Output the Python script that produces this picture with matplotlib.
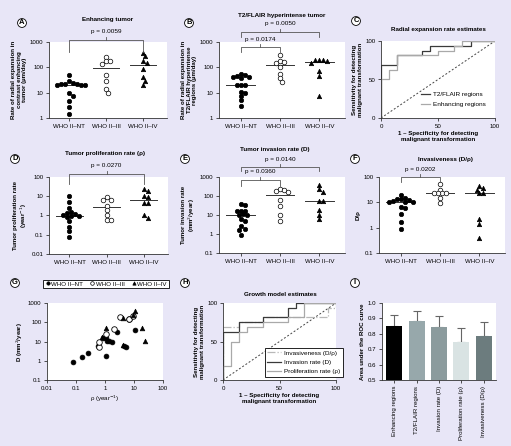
import matplotlib
matplotlib.use('Agg')
import matplotlib.pyplot as plt
import matplotlib.transforms as mtransforms
from matplotlib.lines import Line2D
import numpy as np

plt.rcParams['font.family'] = ['Liberation Sans', 'DejaVu Sans']
plt.rcParams['font.size'] = 4.4

W, H = 511, 446
BG = '#e8e6f7'
DARK = '#3a3a3a'
LIGHT = '#a9a9a9'

groups = ['WHO II–NT', 'WHO II–III', 'WHO II–IV']

# A: radial expansion, enhancing tumor (um/day)
enh_nt = [50, 28, 25, 23, 21, 20, 21, 22, 23, 10, 7.5, 4.5, 2.8, 1.5]
enh_iii = [255, 170, 170, 140, 52, 29, 13.5, 9.7]
enh_iv = [380, 270, 178, 152, 89, 41, 29, 21]

# B: radial expansion, T2/FLAIR (um/day)
t2_nt = [55, 52, 45, 42, 40, 38, 21, 21, 20, 11, 10, 7.5, 5, 3]
t2_iii = [320, 180, 160, 145, 105, 55, 38, 27]
t2_iv = [200, 195, 190, 185, 150, 72, 46, 7.5]

# C: ROC, radial expansion
roc_t2_fpr = [0, 0, 14.29, 35.71, 42.86, 78.57, 100]
roc_t2_tpr = [0, 68.75, 81.25, 87.5, 93.75, 100, 100]
roc_enh_fpr = [0, 0, 7.14, 14.29, 50, 64.29, 71.43, 100]
roc_enh_tpr = [0, 50, 62.5, 81.25, 87.5, 93.75, 100, 100]

# D: proliferation rate rho (1/year)
rho_nt = [10.8, 5.3, 2.5, 1.6, 1.4, 1.2, 1.0, 0.95, 0.9, 0.85, 0.51, 0.25, 0.15, 0.076]
rho_iii = [9.6, 6.5, 6.5, 3.3, 2.0, 1.07, 0.6, 0.6]
rho_iv = [24, 19.6, 10.8, 8.9, 4.3, 4.3, 1.07, 0.76]

# E: invasion rate D (mm2/year)
inv_nt = [38, 35, 17, 17, 17, 11, 10, 10, 6.2, 5, 2.5, 1.8, 1.6, 0.9]
inv_iii = [245, 210, 185, 168, 64, 29, 10.4, 5]
inv_iv = [400, 235, 160, 52, 52, 18, 10.5, 6.2]

# F: invasiveness D/rho
dr_nt = [19, 15, 14, 13, 12, 11, 10, 10, 10, 6.7, 6.2, 3.4, 1.7, 0.9]
dr_iii = [55, 32, 23, 23, 23, 23, 15, 9.1]
dr_iv = [44, 38, 32, 23, 23, 2.3, 1.4, 0.4]

# G: rho vs D per patient
g_nt_rho = [0.08, 0.16, 0.25, 0.56, 1.05, 0.85, 1.1, 1.2, 1.4, 1.7, 2.5, 4.6, 5.3, 11]
g_nt_d = [0.9, 1.6, 2.5, 5.5, 1.8, 16, 16, 11, 11, 10, 32, 6, 5, 38]
g_iii_rho = [0.6, 0.6, 1.07, 2.0, 3.3, 6.5, 6.5, 9.6]
g_iii_d = [5, 9.5, 25, 44, 185, 145, 140, 210]
g_iv_rho = [0.76, 1.07, 4.3, 4.3, 8.9, 10.8, 19.6, 24]
g_iv_d = [18, 52, 160, 6.2, 235, 400, 52, 10.5]

# H: ROC, growth model
roc_dr_fpr = [0, 0, 14.29, 35.71, 92.86, 100]
roc_dr_tpr = [0, 68.75, 75, 81.25, 93.75, 100]
roc_d_fpr = [0, 0, 14.29, 35.71, 57.14, 64.29, 100]
roc_d_tpr = [0, 62.5, 75, 81.25, 93.75, 100, 100]
roc_rho_fpr = [0, 0, 7.14, 14.29, 21.43, 35.71, 57.14, 71.43, 100]
roc_rho_tpr = [0, 18.75, 50, 62.5, 68.75, 75, 81.25, 100, 100]

# I: AUC
auc_names = ['Enhancing regions', 'T2/FLAIR regions', 'Invasion rate (D)',
             'Proliferation rate (ρ)', 'Invasiveness (D/ρ)']
auc_vals = [0.85, 0.88, 0.845, 0.745, 0.785]
auc_err = [0.07, 0.066, 0.073, 0.09, 0.092]
auc_cols = ['#000000', '#97a8ab', '#8b9b9d', '#d9e3e3', '#6c7c7e']

fig = plt.figure(figsize=(W / 100, H / 100), dpi=100, facecolor=BG)


def px_axes(x0, y0, x1, y1):
    ax = fig.add_axes([x0 / W, 1 - y1 / H, (x1 - x0) / W, (y1 - y0) / H])
    ax.set_facecolor('white')
    for s in ['top', 'right']:
        ax.spines[s].set_visible(False)
    for s in ['left', 'bottom']:
        ax.spines[s].set_color('#333333')
        ax.spines[s].set_linewidth(0.6)
    ax.tick_params(length=2.5, width=0.6, color='#333333', labelsize=4.4, pad=1.5)
    return ax


def swarm(ax, pos, vals, d=4.0):
    # simple beeswarm in pixel space so close values sit side by side
    vals = np.asarray(vals, float)
    disp = ax.transData.transform(np.column_stack([np.full(len(vals), float(pos)), vals]))
    order = np.argsort(-disp[:, 1])
    placed = []
    out = disp[:, 0].copy()
    steps = [0] + [s * k for k in range(1, 14) for s in (1, -1)]
    for i in order:
        y = disp[i, 1]
        for st in steps:
            x = disp[i, 0] + st * d * 0.5
            if all((x - px) ** 2 + (y - py) ** 2 >= d ** 2 for px, py in placed):
                break
        placed.append((x, y))
        out[i] = x
    return ax.transData.inverted().transform(np.column_stack([out, disp[:, 1]]))[:, 0]


def dot_panel(ax, nt, iii, iv, ylim, yticks, ylabel):
    ax.set_yscale('log')
    ax.set_xlim(-0.55, 2.65)
    ax.set_ylim(*ylim)
    ax.set_yticks(yticks)
    ax.set_yticklabels([('%g' % t) for t in yticks])
    ax.yaxis.set_minor_locator(plt.NullLocator())
    ax.set_xticks([0, 1, 2])
    ax.set_xticklabels(groups)
    for pos, vals, mk, fc, sz in [(0, nt, 'o', 'black', 10), (1, iii, 'o', 'white', 11),
                                  (2, iv, '^', 'black', 10)]:
        xs = swarm(ax, pos, vals)
        ax.scatter(xs, vals, s=sz, marker=mk, facecolor=fc, edgecolor='black',
                   linewidth=0.5, zorder=3, clip_on=False)
        med = np.median(vals)
        ax.plot([pos - 0.36, pos + 0.36], [med, med], color='#333333', lw=0.7, zorder=2)
    ax.set_ylabel(ylabel, fontweight='bold', fontsize=4.4, linespacing=1.1, labelpad=2)


def bracket(ax, i, j, y_top, y_bot, y_text, text):
    tr = mtransforms.blended_transform_factory(ax.transData, fig.transFigure)
    yt, yb = 1 - y_top / H, 1 - y_bot / H
    ax.plot([i, i, j, j], [yb, yt, yt, yb], transform=tr, color='#555555', lw=0.6,
            clip_on=False, zorder=4)
    mid = (i + j) / 2
    ax.plot([mid, mid], [yt, yt + 3 / H], transform=tr, color='#555555', lw=0.6, clip_on=False)
    ax.text(mid, 1 - y_text / H, text, transform=tr, ha='center', va='center', fontsize=4.6)


def title(x, y, s):
    fig.text(x / W, 1 - y / H, s, ha='center', va='center', fontsize=4.5, fontweight='bold')


def panel_label(x, y, s):
    fig.text(x / W, 1 - y / H, s, ha='center', va='center', fontsize=5.5, fontweight='bold',
             bbox=dict(boxstyle='circle,pad=0.12', fc='white', ec='black', lw=0.6))


def roc_axes(ax):
    ax.set_xlim(0, 100)
    ax.set_ylim(0, 100)
    ax.set_xticks([0, 50, 100])
    ax.set_yticks([0, 50, 100])
    ax.plot([0, 100], [0, 100], color='#444444', lw=0.7, ls=(0, (2, 2)))
    ax.set_xlabel('1 – Specificity for detecting\nmalignant transformation', fontweight='bold',
                  fontsize=4.4, linespacing=1.2, labelpad=2)
    ax.set_ylabel('Sensitivity for detecting\nmalignant transformation', fontweight='bold',
                  fontsize=4.4, linespacing=1.1, labelpad=2)


# A
axA = px_axes(49, 42, 167, 118)
dot_panel(axA, enh_nt, enh_iii, enh_iv, (1, 1000), [1, 10, 100, 1000],
          'Rate of radial expansion in\ncontrast enhancing\ntumor (µm/day)')
bracket(axA, 0, 2, 40, 52, 32, 'p = 0.0059')
title(108, 20, 'Enhancing tumor')
panel_label(22, 23, 'A')

# B
axB = px_axes(219, 42, 345, 118)
dot_panel(axB, t2_nt, t2_iii, t2_iv, (1, 1000), [1, 10, 100, 1000],
          'Rate of radial expansion in\nT2/FLAIR hyperintense\nregions (µm/day)')
bracket(axB, 0, 2, 32, 37, 24, 'p = 0.0050')
bracket(axB, 0, 1, 47, 52, 39, 'p = 0.0174')
title(282, 15, 'T2/FLAIR hyperintense tumor')
panel_label(189, 23, 'B')

# C
axC = px_axes(381, 41, 495, 118)
roc_axes(axC)
axC.step(roc_t2_fpr, roc_t2_tpr, where='post', color=DARK, lw=0.9, label='T2/FLAIR regions')
axC.step(roc_enh_fpr, roc_enh_tpr, where='post', color=LIGHT, lw=0.9, label='Enhancing regions')
axC.legend(loc='lower right', bbox_to_anchor=(492 / W, 1 - 113 / H), bbox_transform=fig.transFigure,
           frameon=False, fontsize=4.6, handlelength=1.5, handletextpad=0.5, labelspacing=0.7)
title(438, 29, 'Radial expansion rate estimates')
panel_label(356, 21, 'C')

# D
axD = px_axes(49, 177, 168, 254)
dot_panel(axD, rho_nt, rho_iii, rho_iv, (0.01, 100), [0.01, 0.1, 1, 10, 100],
          'Tumor proliferation rate\n(year$^{-1}$)')
bracket(axD, 0, 2, 174, 184, 166, 'p = 0.0270')
title(105, 153, 'Tumor proliferation rate (ρ)')
panel_label(15, 159, 'D')

# E
axE = px_axes(219, 177, 345, 253)
dot_panel(axE, inv_nt, inv_iii, inv_iv, (0.1, 1000), [0.1, 1, 10, 100, 1000],
          'Tumor invasion rate\n(mm$^2$/year)')
bracket(axE, 0, 2, 167, 171, 159, 'p = 0.0140')
bracket(axE, 0, 1, 180, 186, 172, 'p = 0.0360')
title(275, 149, 'Tumor invasion rate (D)')
panel_label(185, 159, 'E')

# F
axF = px_axes(379, 177, 505, 253)
dot_panel(axF, dr_nt, dr_iii, dr_iv, (0.1, 100), [0.1, 1, 10, 100], 'D/ρ')
bracket(axF, 0, 1, 177, 182, 169, 'p = 0.0202')
title(445, 160, 'Invasiveness (D/ρ)')
panel_label(355, 159, 'F')

# G
axG = px_axes(47, 303, 163, 380)
axG.set_xscale('log')
axG.set_yscale('log')
axG.set_xlim(0.01, 100)
axG.set_ylim(0.1, 1000)
axG.set_xticks([0.01, 0.1, 1, 10, 100])
axG.set_xticklabels(['0.01', '0.1', '1', '10', '100'])
axG.set_yticks([0.1, 1, 10, 100, 1000])
axG.set_yticklabels(['0.1', '1', '10', '100', '1000'])
axG.xaxis.set_minor_locator(plt.NullLocator())
axG.yaxis.set_minor_locator(plt.NullLocator())
axG.scatter(g_nt_rho, g_nt_d, s=12, marker='o', facecolor='black', edgecolor='black', lw=0.5, zorder=3)
axG.scatter(g_iii_rho, g_iii_d, s=16, marker='o', facecolor='white', edgecolor='black', lw=0.6, zorder=3)
axG.scatter(g_iv_rho, g_iv_d, s=11, marker='^', facecolor='black', edgecolor='black', lw=0.5, zorder=3)
axG.set_xlabel('ρ (year$^{-1}$)', fontsize=4.4, labelpad=2)
axG.set_ylabel('D (mm$^2$/year)', fontweight='bold', fontsize=4.4, labelpad=2)
handles = [Line2D([], [], ls='none', marker='o', ms=2.4, mfc='black', mec='black', mew=0.5),
           Line2D([], [], ls='none', marker='o', ms=2.6, mfc='white', mec='black', mew=0.5),
           Line2D([], [], ls='none', marker='^', ms=2.4, mfc='black', mec='black', mew=0.5)]
legG = fig.legend(handles, groups, loc='center', bbox_to_anchor=(106 / W, 1 - 284 / H), ncol=3,
                  frameon=True, fancybox=False, edgecolor='black', facecolor='white', framealpha=1,
                  fontsize=4.4, handletextpad=0.1, columnspacing=1.2, borderpad=0.3,
                  handlelength=0.8)
legG.get_frame().set_linewidth(0.6)
panel_label(15, 283, 'G')

# H
axH = px_axes(223, 303, 336, 380)
roc_axes(axH)
axH.step(roc_dr_fpr, roc_dr_tpr, where='post', color='#b8b8b8', lw=0.9, ls='-.',
         label='Invasiveness (D/ρ)')
axH.step(roc_d_fpr, roc_d_tpr, where='post', color=DARK, lw=0.9, label='Invasion rate (D)')
axH.step(roc_rho_fpr, roc_rho_tpr, where='post', color=LIGHT, lw=0.9, label='Proliferation rate (ρ)')
legH = axH.legend(loc='lower right', bbox_to_anchor=(346 / W, 1 - 380 / H),
                  bbox_transform=fig.transFigure, frameon=True, fancybox=False, edgecolor='black',
                  facecolor='white', framealpha=1, fontsize=4.6, handlelength=2.2,
                  handletextpad=0.4, labelspacing=0.6, borderpad=0.4)
legH.get_frame().set_linewidth(0.6)
title(280, 294, 'Growth model estimates')
panel_label(185, 283, 'H')

# I
axI = px_axes(382, 303, 496, 380)
xs = np.arange(len(auc_vals))
axI.bar(xs, auc_vals, width=0.72, color=auc_cols, zorder=2)
axI.errorbar(xs, auc_vals, yerr=[np.zeros(len(auc_err)), auc_err], fmt='none', ecolor='#666666',
             elinewidth=0.8, capsize=2.6, capthick=0.8, zorder=1)
axI.set_xlim(-0.55, len(auc_vals) - 0.45)
axI.set_ylim(0.5, 1.0)
axI.set_yticks([0.5, 0.6, 0.7, 0.8, 0.9, 1.0])
axI.set_yticklabels(['0.5', '0.6', '0.7', '0.8', '0.9', '1.0'])
axI.set_xticks(xs)
axI.set_xticklabels(auc_names, rotation=90)
axI.set_ylabel('Area under the ROC curve', fontweight='bold', fontsize=4.4, labelpad=2)
panel_label(355, 283, 'I')

fig.savefig('out.png', dpi=100, facecolor=BG)
